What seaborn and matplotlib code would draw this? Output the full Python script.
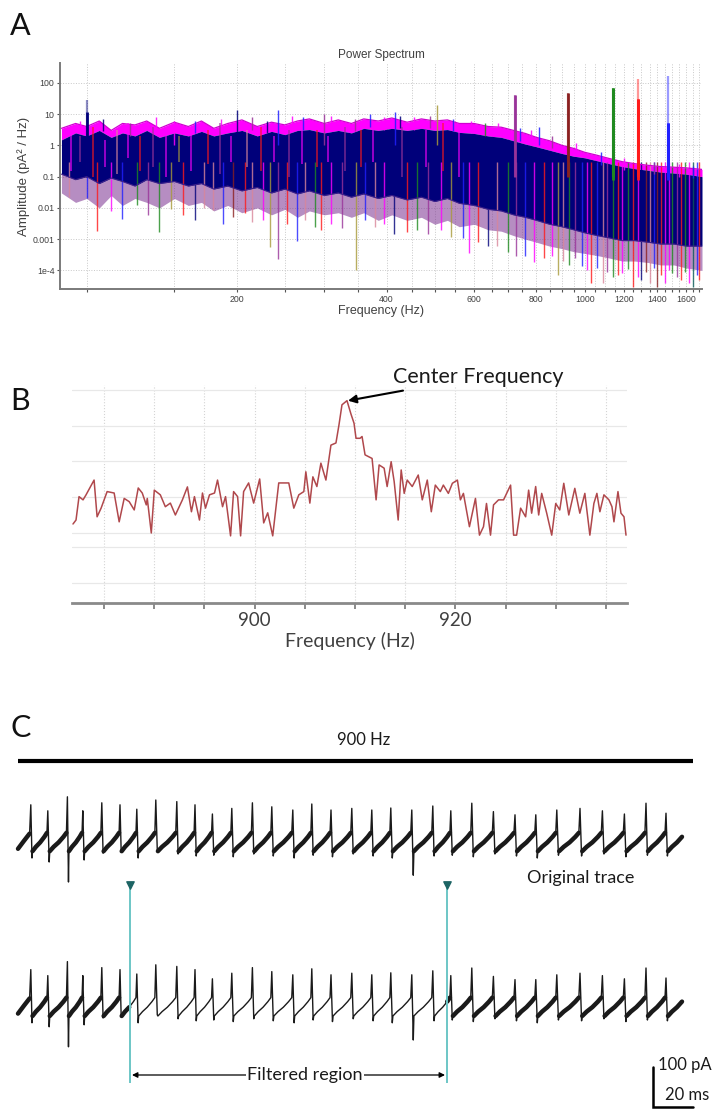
import numpy as np
import pandas as pd
import matplotlib
matplotlib.use("Agg")
import matplotlib.pyplot as plt
from matplotlib.ticker import FixedLocator, NullFormatter
import seaborn as sns

# ---------------- Panel A : power spectra ----------------
spec_freq = [89, 95, 100, 106, 112, 118, 125, 132, 140, 150,
             160, 170, 180, 192, 205, 220, 235, 250, 265, 280,
             300, 320, 340, 360, 385, 410, 440, 470, 500, 530,
             560, 600, 640, 680, 720, 760, 800, 850, 900, 950,
             1000, 1060, 1120, 1190, 1260, 1340, 1420, 1510, 1600, 1720]
band_top = [3.5, 5.0, 4.0, 6.0, 3.0, 5.0, 4.5, 6.0, 3.5, 5.5,
            4.0, 6.0, 3.5, 5.0, 6.5, 4.0, 5.5, 4.5, 6.0, 7.0,
            5.0, 6.5, 5.0, 7.0, 6.0, 7.5, 5.5, 7.0, 6.0, 6.5,
            5.0, 5.0, 4.0, 3.8, 3.0, 2.4, 1.8, 1.4, 1.0, 0.8,
            0.6, 0.48, 0.38, 0.3, 0.26, 0.23, 0.21, 0.2, 0.19, 0.17]
core_top = [1.5, 2.5, 2.0, 3.0, 1.8, 2.5, 2.0, 3.0, 1.8, 2.5,
            2.0, 2.8, 2.0, 2.5, 3.0, 2.0, 2.8, 2.2, 3.0, 3.2,
            2.5, 3.0, 2.5, 3.5, 3.0, 3.5, 3.0, 3.5, 3.0, 3.2,
            2.6, 2.4, 2.0, 1.8, 1.4, 1.1, 0.9, 0.7, 0.55, 0.45,
            0.4, 0.32, 0.26, 0.21, 0.18, 0.16, 0.14, 0.13, 0.12, 0.1]
core_bot = [0.12, 0.08, 0.10, 0.06, 0.09, 0.07, 0.05, 0.08, 0.06, 0.07,
            0.05, 0.06, 0.04, 0.05, 0.035, 0.045, 0.03, 0.04, 0.028, 0.035,
            0.025, 0.03, 0.022, 0.028, 0.02, 0.025, 0.018, 0.022, 0.016, 0.02,
            0.014, 0.012, 0.009, 0.008, 0.006, 0.005, 0.004, 0.003, 0.0025, 0.002,
            0.0016, 0.0013, 0.0011, 0.0009, 0.0009, 0.0008, 0.0007, 0.0007, 0.0006, 0.0006]
band_bot = [0.03, 0.015, 0.02, 0.01, 0.025, 0.012, 0.02, 0.015, 0.01, 0.02,
            0.012, 0.015, 0.008, 0.012, 0.007, 0.01, 0.006, 0.009, 0.005, 0.008,
            0.006, 0.007, 0.005, 0.007, 0.004, 0.006, 0.004, 0.005, 0.003, 0.004,
            0.0025, 0.003, 0.002, 0.0018, 0.0013, 0.001, 0.0008, 0.0006, 0.0005, 0.0004,
            0.00035, 0.0003, 0.00025, 0.0002, 0.0002, 0.00018, 0.00015, 0.00015, 0.00012, 0.0001]

dip_freq = [92, 100, 105, 112, 118, 126, 133, 140, 148, 156,
            165, 172, 179, 188, 197, 208, 215, 226, 233, 242,
            252, 264, 275, 287, 295, 310, 325, 348, 362, 380,
            396, 415, 440, 460, 485, 514, 540, 571, 585, 610,
            640, 667, 700, 728, 760, 791, 830, 882, 930, 988,
            1030, 1090, 1140, 1190, 1250, 1300, 1350, 1395, 1450, 1500,
            1560, 1620, 1650, 1700, 1010, 1060, 1110, 1165, 1220, 1280,
            1325, 1375, 1420, 1480, 1530, 1590, 1680, 860, 905, 955]
dip_low = [0.022, 0.02, 0.0018, 0.008, 0.0043, 0.012, 0.006, 0.0017, 0.009, 0.006,
           0.004, 0.01, 0.0088, 0.003, 0.005, 0.007, 0.0035, 0.004, 0.00055, 0.00023,
           0.003, 0.00088, 0.004, 0.0025, 0.002, 0.003, 0.0022, 0.0001, 0.004, 0.0025,
           0.003, 0.0015, 0.0017, 0.002, 0.0015, 0.002, 0.0012, 0.0011, 0.00036, 0.0008,
           0.0006, 0.0006, 0.0004, 0.00029, 0.0003, 0.00018, 0.00025, 0.000074, 0.00015, 0.00014,
           0.00004, 0.00004, 0.00006, 0.00008, 0.00003, 0.00005, 0.00004, 0.00003, 0.00004, 0.00008,
           0.00005, 0.00004, 0.00003, 0.00005, 0.0001, 0.00012, 0.00009, 0.00007, 0.00011, 0.00006,
           0.00009, 0.00012, 0.00007, 0.0001, 0.00006, 0.00009, 0.00007, 0.0003, 0.0002, 0.00025]
dip_color = ["pink", "blue", "red", "magenta", "blue", "green", "purple", "green", "olive", "red",
             "navy", "pink", "pink", "blue", "darkred", "red", "pink", "magenta", "olive", "purple",
             "red", "blue", "pink", "green", "red", "magenta", "purple", "olive", "blue", "pink",
             "magenta", "navy", "red", "green", "purple", "magenta", "olive", "blue", "magenta", "red",
             "navy", "pink", "green", "purple", "blue", "magenta", "red", "olive", "green", "blue",
             "red", "pink", "green", "magenta", "red", "navy", "pink", "darkred", "magenta", "green",
             "red", "magenta", "teal", "red", "magenta", "blue", "purple", "red", "green", "magenta",
             "darkred", "blue", "red", "magenta", "purple", "green", "blue", "magenta", "pink", "purple"]

inner_freq = [93, 97, 103, 109, 115, 121, 128, 136, 144, 153,
              162, 175, 185, 195, 210, 224, 238, 255, 270, 290,
              305, 330, 355, 375, 430, 480, 520, 560]
inner_lo = [0.15, 0.3, 0.1, 0.2, 0.12, 0.4, 0.15, 0.2, 0.1, 0.3,
            0.15, 0.25, 0.12, 0.3, 0.2, 0.15, 0.3, 0.1, 0.25, 0.2,
            0.3, 0.15, 0.2, 0.3, 0.1, 0.2, 0.15, 0.1]
inner_hi = [3, 2, 4, 1.5, 3, 5, 2, 4, 3, 2,
            4, 3, 5, 2, 3, 4, 2, 3, 5, 3,
            2, 4, 3, 5, 4, 3, 5, 4]
inner_color = ["magenta", "purple", "red", "magenta", "pink", "magenta", "red", "purple", "magenta", "olive",
               "magenta", "red", "purple", "magenta", "pink", "red", "magenta", "purple", "magenta", "red",
               "magenta", "purple", "red", "magenta", "purple", "magenta", "red", "magenta"]

edge_freq = [97, 108, 122, 138, 165, 186, 215, 230, 258, 272,
             310, 345, 370, 395, 425, 455, 490, 545, 590, 630,
             670, 740, 780, 860, 960, 1080, 1200, 1380, 1550, 1650]
edge_val = [6, 7, 5, 8, 6, 7, 8, 6, 9, 8,
            9, 7, 10, 8, 9, 8, 9, 7, 6, 5,
            5, 3.5, 3, 2, 1.2, 0.6, 0.4, 0.3, 0.25, 0.22]
edge_color = ["magenta", "navy", "purple", "magenta", "blue", "magenta", "purple", "navy", "magenta", "blue",
              "magenta", "purple", "blue", "magenta", "navy", "magenta", "purple", "blue", "magenta", "green",
              "magenta", "blue", "magenta", "purple", "magenta", "blue", "magenta", "purple", "magenta", "blue"]

up_freq = [150, 200, 242, 300, 416, 506, 808]
up_val = [6, 14, 14, 10, 12, 19, 4]
up_color = ["magenta", "navy", "blue", "purple", "blue", "olive", "blue"]

peak_freq = [100, 725, 925, 1140, 1280, 1470]
peak_top = [29, 42, 48, 70, 128, 170]
peak_core = [12, 42, 48, 70, 30, 5]
peak_color = ["navy", "purple", "darkred", "green", "red", "blue"]

a_xticks = [200, 400, 600, 800, 1000, 1200, 1400, 1600]
a_xminor = [100, 150, 250, 300, 350, 450, 500, 550, 650, 700, 750, 850, 900, 950,
            1050, 1100, 1150, 1250, 1300, 1350, 1450, 1500, 1550, 1650, 1700]
a_yticks = [1e-4, 1e-3, 1e-2, 1e-1, 1, 10, 100]
a_ylabels = ["1e-4", "0.001", "0.01", "0.1", "1", "10", "100"]

palette = {"navy": "#00007a", "blue": "#2020ff", "magenta": "#ff00ff", "purple": "#993399",
           "red": "#ff1a1a", "darkred": "#8b2020", "green": "#1f8a1f", "olive": "#a89a3a",
           "pink": "#d9869a", "teal": "#0a5a5a"}

# ---------------- Panel B : zoom around the centre frequency ----------------
b_freq = [881.9, 882.2, 882.5, 882.9, 883.2, 884.0, 884.3, 884.7, 885.3, 886.0,
          886.5, 887.0, 887.5, 888.0, 888.4, 888.8, 889.2, 889.3, 889.7, 890.0,
          890.6, 891.1, 891.6, 892.1, 892.8, 893.3, 893.7, 894.0, 894.5, 894.8,
          895.1, 895.5, 896.0, 896.3, 896.8, 897.1, 897.6, 897.9, 898.3, 898.6,
          898.9, 899.4, 899.9, 900.5, 900.9, 901.3, 901.8, 902.4, 903.4, 903.9,
          904.4, 904.9, 905.1, 905.5, 905.8, 906.2, 906.6, 907.1, 907.6, 908.1,
          908.4, 908.7, 909.2, 909.6, 909.9, 910.1, 910.5, 910.7, 911.0, 911.7,
          912.1, 912.4, 912.9, 913.2, 913.6, 913.9, 914.3, 914.6, 914.9, 915.2,
          915.7, 916.3, 916.7, 917.2, 917.6, 918.0, 918.5, 918.8, 919.3, 919.7,
          920.2, 920.5, 920.8, 921.4, 922.0, 922.4, 922.8, 923.1, 923.5, 923.8,
          924.3, 924.8, 925.5, 925.8, 926.1, 926.5, 927.0, 927.3, 927.6, 928.0,
          928.3, 928.6, 929.1, 929.6, 930.0, 930.4, 930.8, 931.3, 931.9, 932.4,
          932.9, 933.4, 933.8, 934.1, 934.4, 934.8, 935.3, 935.6, 935.8, 936.2,
          936.5, 936.8, 937.0]
b_level = [2.5, 3.6, 10.1, 9.2, 10.6, 14.7, 4.5, 6.9, 11.5, 11.1,
           3.1, 9.6, 8.7, 6.4, 12.5, 11.1, 7.8, 9.6, 0.0, 11.9,
           10.6, 7.3, 8.3, 5.0, 9.2, 12.8, 5.9, 10.1, 3.6, 11.1,
           6.9, 10.6, 11.1, 14.7, 7.3, 10.1, -0.8, 11.5, 10.1, -0.8,
           11.5, 13.9, 8.3, 15.0, 2.8, 5.6, -0.8, 13.9, 13.9, 6.9,
           10.6, 11.5, 17.0, 8.3, 15.6, 12.9, 19.4, 14.7, 24.4, 25.0,
           30.0, 35.6, 36.75, 33.0, 30.5, 26.3, 26.3, 26.8, 21.7, 20.7,
           9.2, 18.9, 18.0, 12.9, 19.8, 14.3, 3.6, 17.5, 11.0, 14.7,
           12.9, 16.1, 9.2, 14.7, 5.9, 13.3, 11.5, 13.3, 11.0, 13.8,
           14.7, 9.2, 11.0, 1.75, 9.6, -0.6, 1.75, 8.2, -0.6, 7.8,
           9.2, 9.2, 13.3, -0.6, -0.6, 6.9, 4.5, 11.9, 5.5, 12.9,
           5.0, 11.0, 5.5, -0.6, 8.2, 6.4, 13.8, 5.0, 12.4, 5.5,
           11.0, -0.6, 8.2, 11.0, 5.9, 10.6, 9.2, 7.3, 3.1, 11.5,
           5.5, 4.5, -0.6]
b_xticks = [885, 890, 895, 900, 905, 910, 915, 920, 925, 930, 935]
b_xlabels = ["", "", "", "900", "", "", "", "920", "", "", ""]
b_grid_levels = [-13.9, -3.9, 0, 10, 20, 29.7, 39.7]
center_freq, center_level = 909.2, 36.75

# ---------------- Panel C : current traces (ms, pA) ----------------
spike_t = [6.4, 14.9, 24.7, 32.4, 41.9, 51.0, 59.4, 68.9, 79.4, 88.5,
           97.2, 106.9, 117.2, 126.9, 137.4, 146.9, 156.5, 166.9, 176.9, 186.4,
           196.9, 207.4, 216.4, 226.9, 237.7, 248.5, 258.9, 269.4, 281.0, 292.2,
           303.2, 314.0, 324.0]
spike_amp = [88, 73, 108, 73, 93, 88, 77, 100, 96, 88,
             65, 79, 93, 83, 75, 90, 75, 79, 75, 80,
             75, 85, 73, 92, 71, 63, 63, 75, 79, 73,
             65, 92, 67]
trough_amp = [-45, -55, -105, -50, -33, -30, -45, -25, -35, -40,
              -38, -42, -35, -40, -45, -38, -42, -35, -40, -45,
              -88, -40, -38, -42, -35, -40, -45, -38, -40, -35,
              -42, -38, -40]
lead_t = [0.0, 3.0, 5.8]
lead_level = [-22, -2, 16]
cycle_phase = [0.10, 0.30, 0.55, 0.80, 0.95]
cycle_level = [-28, -17, -6, 8, 18]
trough_phase = 0.07
trace_end = 332.5
trace_offsets = [0, -412]
filter_start, filter_end = 56.0, 214.5

# ---------------- figure ----------------
sns.set_theme(style="white")
plt.rcParams["font.family"] = ["Liberation Sans", "DejaVu Sans"]
fig = plt.figure(figsize=(7.27, 11.10), dpi=100)
W, H = 727.0, 1110.0

def frame(x0, y0, x1, y1):
    return [x0 / W, 1 - y1 / H, (x1 - x0) / W, (y1 - y0) / H]

# ---------- Panel A ----------
axA = fig.add_axes(frame(60, 63.3, 702, 289.3))
axA.set_xscale("log")
axA.set_yscale("log")
axA.set_xlim(88.4, 1720)
axA.set_ylim(2.5e-5, 420)
axA.fill_between(spec_freq, band_bot, core_bot, color="#7a3090", alpha=0.55, lw=0)
for f, lo, c in zip(dip_freq, dip_low, dip_color):
    axA.vlines(f, lo, 0.3, color=palette[c], lw=1.0, alpha=0.8)
axA.fill_between(spec_freq, core_top, band_top, color="#ff00ff", lw=0)
sns.lineplot(x=spec_freq, y=band_top, color="#d000d0", lw=0.9, ax=axA)
for f, top, core, c in zip(peak_freq, peak_top, peak_core, peak_color):
    axA.vlines(f, 0.1, top, color=palette[c], lw=1.6, alpha=0.45)
    axA.vlines(f, 0.1, core, color=palette[c], lw=2.0)
axA.fill_between(spec_freq, core_bot, core_top, color="#00007a", lw=0)
sns.lineplot(x=spec_freq, y=core_bot, color="#40208a", lw=0.8, ax=axA)
for f, lo, hi, c in zip(inner_freq, inner_lo, inner_hi, inner_color):
    axA.vlines(f, lo, hi, color=palette[c], lw=1.1, alpha=0.75)
for f, v, c in zip(edge_freq, edge_val, edge_color):
    axA.vlines(f, v / 2.5, v, color=palette[c], lw=1.0, alpha=0.85)
for f, v, c in zip(up_freq, up_val, up_color):
    axA.vlines(f, 1.0, v, color=palette[c], lw=1.0, alpha=0.85)
for f, top, core, c in zip(peak_freq[-3:], peak_top[-3:], peak_core[-3:], peak_color[-3:]):
    axA.vlines(f, 0.08, core, color=palette[c], lw=2.0)
axA.set_xticks(a_xticks, [str(v) for v in a_xticks])
axA.xaxis.set_minor_locator(FixedLocator(a_xminor))
axA.xaxis.set_minor_formatter(NullFormatter())
axA.set_yticks(a_yticks, a_ylabels)
axA.yaxis.set_minor_locator(FixedLocator([]))
axA.grid(True, which="both", axis="x", ls=":", color="#c8c8c8", lw=0.7)
axA.grid(True, which="major", axis="y", ls=":", color="#c8c8c8", lw=0.7)
axA.set_axisbelow(True)
for s in ["top", "right"]:
    axA.spines[s].set_visible(False)
for s in ["left", "bottom"]:
    axA.spines[s].set_color("#7a7a7a")
    axA.spines[s].set_linewidth(1.4)
axA.tick_params(which="both", direction="out", length=2.5, width=0.8, color="#555555",
                labelsize=6.3, labelcolor="#404040", pad=1.5, bottom=True, left=True)
axA.set_xlabel("Frequency (Hz)", fontsize=9, color="#404040", labelpad=1)
axA.set_ylabel("Amplitude (pA\u00b2 / Hz)", fontsize=9.5, color="#404040", labelpad=2)
axA.set_title("Power Spectrum", fontsize=8.5, color="#404040", pad=4)

# ---------- Panel B ----------
axB = fig.add_axes(frame(72, 385, 627, 602.7))
axB.set_xlim(881.8, 937.1)
axB.set_ylim(-19.36, 41.1)
sns.lineplot(x=b_freq, y=b_level, color="#b0484c", lw=1.1, ax=axB)
axB.set_xticks(b_xticks, b_xlabels)
axB.set_yticks(b_grid_levels, [""] * len(b_grid_levels))
axB.grid(True, axis="y", color="#e8e8e8", lw=0.9)
axB.grid(True, axis="x", ls=":", color="#d4d4d4", lw=0.8)
for s in ["top", "right", "left"]:
    axB.spines[s].set_visible(False)
axB.spines["bottom"].set_color("#8a8a8a")
axB.spines["bottom"].set_linewidth(2.0)
axB.tick_params(axis="x", direction="out", length=4, width=1.2, color="#777777",
                labelsize=13.5, labelcolor="#404040", pad=3, bottom=True)
axB.tick_params(axis="y", length=0)
for lab in axB.get_xticklabels():
    lab.set_family("Lato")
axB.set_xlabel("Frequency (Hz)", fontsize=14, color="#404040", family="Lato", labelpad=2)
axB.annotate("Center Frequency", xy=(center_freq + 0.1, center_level), xytext=(913.8, 41.7),
             fontsize=15.5, family="Lato", color="#1a1a1a", ha="left", va="baseline",
             annotation_clip=False,
             arrowprops=dict(arrowstyle="-|>", color="black", lw=1.5, mutation_scale=12,
                             shrinkA=2, shrinkB=0))

# ---------- Panel C ----------
axC = fig.add_axes([0, 0, 1, (H - 700) / H])
axC.set_xlim(-9, 354.5)
axC.set_ylim(-675, 350)
axC.axis("off")

def build_trace(offset, thin_lo=None, thin_hi=None):
    thin_t = list(lead_t)
    thin_v = [v + offset for v in lead_level]
    rows = [(t, v + offset, 0) for t, v in zip(lead_t, lead_level)]
    n = len(spike_t)
    for i, ts in enumerate(spike_t):
        P = (spike_t[i + 1] - ts) if i < n - 1 else (ts - spike_t[i - 1])
        thin_t += [ts, ts + trough_phase * P]
        thin_v += [spike_amp[i] + offset, trough_amp[i] + offset]
        for ph, lv in zip(cycle_phase, cycle_level):
            tt = ts + ph * P
            if tt > trace_end:
                break
            thin_t.append(tt)
            thin_v.append(lv + offset)
            inside = thin_lo is not None and thin_lo <= tt <= thin_hi
            if not inside:
                rows.append((tt, lv + offset, i + 1))
    thin = pd.DataFrame({"t": thin_t, "v": thin_v})
    thick = pd.DataFrame(rows, columns=["t", "v", "seg"])
    return thin, thick

for k, off in enumerate(trace_offsets):
    if k == 0:
        thin, thick = build_trace(off)
    else:
        thin, thick = build_trace(off, filter_start, filter_end)
    sns.lineplot(data=thin, x="t", y="v", sort=False, estimator=None, color="#1a1a1a",
                 lw=1.0, ax=axC)
    sns.lineplot(data=thick, x="t", y="v", units="seg", sort=False, estimator=None,
                 color="#1a1a1a", lw=3.2, ax=axC)

axC.hlines(197.5, 0, 337.5, color="black", lw=3.0)
axC.text(173, 237.5, "900 Hz", fontsize=12, family="Lato", ha="center", va="baseline",
         color="#1a1a1a")
axC.vlines([filter_start, filter_end], -607.5, -112.5, color="#6cc6c6", lw=1.4)
axC.scatter([filter_start, filter_end], [-112.5, -112.5], marker="v", s=28,
            color="#1d6464", zorder=5)
axC.annotate("", xy=(filter_start + 1.0, -587.5), xytext=(filter_end - 1.0, -587.5),
             arrowprops=dict(arrowstyle="<|-|>", color="black", lw=0.9, mutation_scale=8,
                             shrinkA=0, shrinkB=0))
axC.text(143.5, -600, "Filtered region", fontsize=13, family="Lato", ha="center",
         va="baseline", color="#1a1a1a",
         bbox=dict(boxstyle="square,pad=0.05", fc="white", ec="none"))
axC.text(281.5, -107.5, "Original trace", fontsize=13, family="Lato", ha="center",
         va="baseline", color="#1a1a1a")
axC.plot([317.5, 317.5, 337.5], [-567.5, -667.5, -667.5], color="black", lw=1.8,
         solid_joinstyle="miter", clip_on=False)
axC.text(320, -575, "100 pA", fontsize=12, family="Lato", ha="left", va="baseline",
         color="#1a1a1a")
axC.text(323.5, -651, "20 ms", fontsize=12, family="Lato", ha="left", va="baseline",
         color="#1a1a1a")

for letter, ybase in [("A", 35), ("B", 410), ("C", 737)]:
    fig.text(10 / W, 1 - ybase / H, letter, fontsize=22, family="Lato", ha="left",
             va="baseline", color="#111111")

fig.savefig("out.png", dpi=100)
